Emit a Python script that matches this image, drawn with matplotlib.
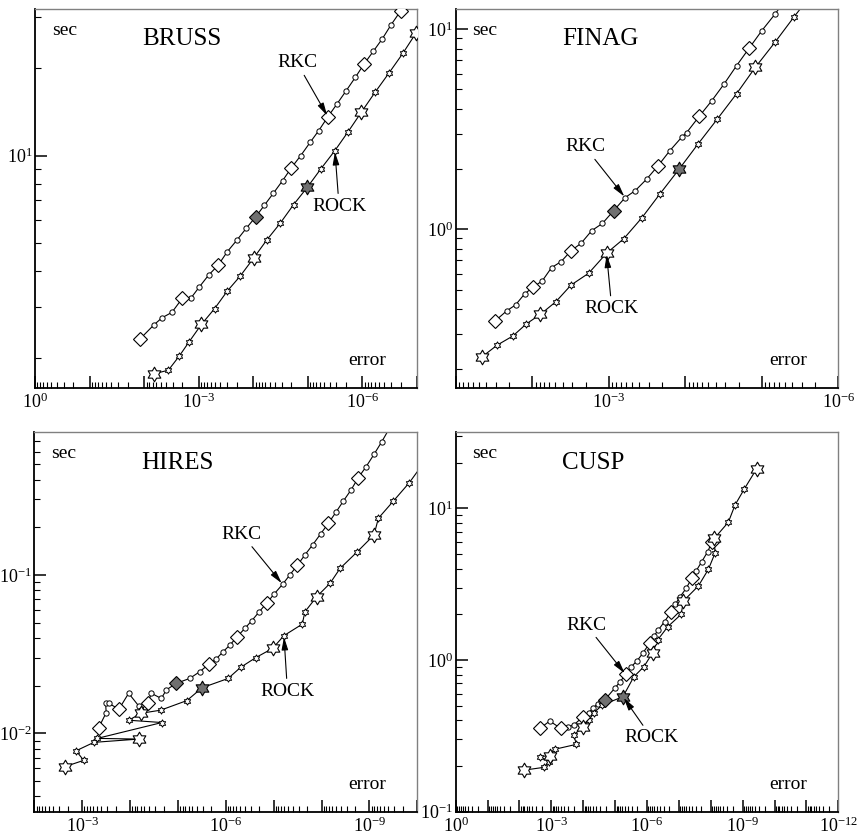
import matplotlib
matplotlib.use("Agg")
import matplotlib.pyplot as plt
from matplotlib.path import Path
from matplotlib.ticker import LogLocator, FuncFormatter, NullFormatter
import numpy as np

plt.rcParams["font.family"] = ["Liberation Serif", "DejaVu Serif"]
plt.rcParams["mathtext.fontset"] = "custom"
plt.rcParams["mathtext.rm"] = "Liberation Serif"
plt.rcParams["mathtext.it"] = "Liberation Serif:italic"
plt.rcParams["mathtext.bf"] = "Liberation Serif:bold"

# ---- data: error vs cpu seconds, RKC and ROCK on four test problems ----
bruss_rkc_err = [1.17e-2, 6.6e-3, 4.7e-3, 3.1e-3, 2.0e-3, 1.4e-3, 9.8e-4, 6.6e-4, 4.4e-4, 3.0e-4,
                 2.0e-4, 1.35e-4, 9.1e-5, 6.3e-5, 4.3e-5, 2.9e-5, 2.0e-5, 1.35e-5, 9.1e-6, 6.3e-6,
                 4.3e-6, 2.9e-6, 2.0e-6, 1.35e-6, 9.3e-7, 6.3e-7, 4.3e-7, 3.0e-7, 2.0e-7]
bruss_rkc_sec = [2.34, 2.61, 2.76, 2.88, 3.22, 3.22, 3.52, 3.87, 4.19, 4.66,
                 5.11, 5.61, 6.14, 6.73, 7.41, 8.20, 9.08, 10.0, 11.1, 12.2,
                 13.6, 15.1, 16.7, 18.6, 20.7, 22.9, 25.3, 28.2, 31.5]
bruss_rock_err = [6.5e-3, 3.6e-3, 2.3e-3, 1.5e-3, 8.9e-4, 5.1e-4, 3.0e-4, 1.74e-4, 9.8e-5, 5.6e-5,
                  3.2e-5, 1.82e-5, 1.02e-5, 5.8e-6, 3.2e-6, 1.82e-6, 1.05e-6, 5.9e-7, 3.3e-7, 1.82e-7,
                  1.05e-7]
bruss_rock_sec = [1.77, 1.82, 2.03, 2.28, 2.62, 2.97, 3.41, 3.84, 4.44, 5.13,
                  5.85, 6.78, 7.78, 8.99, 10.4, 12.1, 14.1, 16.5, 19.2, 22.5,
                  26.4]

finag_rkc_err = [3.04e-2, 2.14e-2, 1.65e-2, 1.26e-2, 9.8e-3, 7.4e-3, 5.6e-3, 4.2e-3, 3.1e-3, 2.3e-3,
                 1.67e-3, 1.21e-3, 8.6e-4, 6.1e-4, 4.5e-4, 3.2e-4, 2.26e-4, 1.59e-4, 1.10e-4, 9.6e-5,
                 6.6e-5, 4.5e-5, 3.1e-5, 2.14e-5, 1.46e-5, 1.0e-5, 6.7e-6, 4.6e-6]
finag_rkc_sec = [0.349, 0.392, 0.419, 0.475, 0.513, 0.552, 0.643, 0.689, 0.782, 0.851,
                 0.984, 1.07, 1.24, 1.44, 1.56, 1.78, 2.08, 2.47, 2.90, 3.04,
                 3.66, 4.39, 5.33, 6.56, 8.04, 9.82, 11.9, 14.5]
finag_rock_err = [4.5e-2, 2.86e-2, 1.79e-2, 1.19e-2, 7.8e-3, 4.9e-3, 3.1e-3, 1.83e-3, 1.07e-3, 6.4e-4,
                  3.7e-4, 2.15e-4, 1.20e-4, 6.8e-5, 3.8e-5, 2.14e-5, 1.22e-5, 6.7e-6, 3.8e-6, 2.12e-6]
finag_rock_sec = [0.231, 0.264, 0.293, 0.337, 0.376, 0.435, 0.527, 0.603, 0.759, 0.895,
                  1.14, 1.50, 2.00, 2.67, 3.56, 4.75, 6.43, 8.61, 11.5, 15.3]

hires_rkc_err = [4.56e-4, 3.15e-4, 3.25e-4, 2.81e-4, 1.71e-4, 1.07e-4, 6.6e-5, 6.0e-5, 4.2e-5, 3.6e-5,
                 2.22e-5, 1.75e-5, 1.08e-5, 5.7e-6, 3.5e-6, 2.27e-6, 1.62e-6, 1.17e-6, 8.2e-7, 5.8e-7,
                 4.0e-7, 2.9e-7, 2.0e-7, 1.41e-7, 9.9e-8, 6.5e-8, 4.6e-8, 3.2e-8, 2.22e-8, 1.53e-8,
                 1.04e-8, 7.2e-9, 5.0e-9, 3.5e-9, 2.42e-9, 1.70e-9, 1.17e-9, 8.0e-10, 5.5e-10, 3.8e-10]
hires_rkc_sec = [1.08e-2, 1.35e-2, 1.56e-2, 1.55e-2, 1.42e-2, 1.79e-2, 1.49e-2, 1.40e-2, 1.56e-2, 1.79e-2,
                 1.66e-2, 1.88e-2, 2.07e-2, 2.22e-2, 2.45e-2, 2.73e-2, 2.93e-2, 3.25e-2, 3.61e-2, 4.07e-2,
                 4.60e-2, 5.12e-2, 5.86e-2, 6.62e-2, 7.55e-2, 8.73e-2, 0.100, 0.115, 0.134, 0.155,
                 0.182, 0.212, 0.249, 0.293, 0.344, 0.412, 0.483, 0.578, 0.695, 0.845]
hires_rock_err = [2.34e-3, 9.3e-4, 1.34e-3, 5.7e-4, 6.6e-5, 4.85e-4, 2.16e-5, 1.07e-4, 5.8e-5, 2.30e-5,
                  6.5e-6, 3.13e-6, 8.95e-7, 4.9e-7, 2.35e-7, 1.05e-7, 6.1e-8, 2.53e-8, 2.22e-8, 1.26e-8,
                  6.65e-9, 4.1e-9, 1.84e-9, 8.0e-10, 6.5e-10, 3.15e-10, 1.46e-10, 7.9e-11]
hires_rock_sec = [6.15e-3, 6.75e-3, 7.76e-3, 8.77e-3, 9.2e-3, 9.29e-3, 1.17e-2, 1.21e-2, 1.34e-2, 1.40e-2,
                  1.61e-2, 1.94e-2, 2.22e-2, 2.61e-2, 3.01e-2, 3.44e-2, 4.14e-2, 4.89e-2, 5.86e-2, 7.29e-2,
                  8.85e-2, 0.110, 0.139, 0.179, 0.228, 0.293, 0.383, 0.495]

cusp_rkc_err = [2.30e-3, 1.12e-3, 5.1e-4, 2.99e-4, 1.99e-4, 1.01e-4, 6.6e-5, 4.9e-5, 3.44e-5, 2.84e-5,
                2.13e-5, 1.04e-5, 6.9e-6, 4.7e-6, 3.12e-6, 2.07e-6, 1.35e-6, 8.3e-7, 6.2e-7, 4.4e-7,
                2.83e-7, 1.75e-7, 1.28e-7, 9.1e-8, 5.9e-8, 3.94e-8, 2.89e-8, 1.92e-8, 1.25e-8, 9.1e-9]
cusp_rkc_sec = [0.354, 0.396, 0.354, 0.363, 0.373, 0.423, 0.450, 0.485, 0.515, 0.537,
                0.545, 0.650, 0.720, 0.804, 0.904, 0.985, 1.11, 1.29, 1.43, 1.58,
                1.79, 2.08, 2.34, 2.62, 2.97, 3.46, 3.86, 4.45, 5.18, 6.03]
cusp_rock_err = [7.1e-3, 1.73e-3, 1.17e-3, 2.30e-3, 1.12e-3, 7.8e-4, 1.64e-4, 1.99e-4, 1.01e-4, 6.6e-5,
                 4.6e-5, 2.52e-5, 5.7e-6, 2.58e-6, 1.25e-6, 6.6e-7, 4.6e-7, 2.22e-7, 8.5e-8, 7.2e-8,
                 2.44e-8, 1.19e-8, 7.4e-9, 7.7e-9, 2.82e-9, 1.74e-9, 8.9e-10, 3.66e-10]
cusp_rock_sec = [0.188, 0.196, 0.214, 0.231, 0.234, 0.258, 0.278, 0.320, 0.363, 0.402,
                 0.450, 0.505, 0.573, 0.776, 0.904, 1.12, 1.36, 1.66, 2.00, 2.45,
                 3.08, 3.96, 5.05, 6.34, 8.09, 10.5, 13.4, 18.2]

# which runs carry the large marker, and the highlighted (grey) run
bruss_rkc_big, bruss_rkc_grey = [0, 4, 8, 16, 20, 24, 28], 12
bruss_rock_big, bruss_rock_grey = [0, 4, 8, 16, 20], 12
finag_rkc_big, finag_rkc_grey = [0, 4, 8, 16, 20, 24], 12
finag_rock_big, finag_rock_grey = [0, 4, 8, 16], 12
hires_rkc_big, hires_rkc_grey = [0, 4, 8, 15, 19, 23, 27, 31, 35], 12
hires_rock_big, hires_rock_grey = [0, 4, 8, 15, 19, 23], 11
cusp_rkc_big, cusp_rkc_grey = [0, 2, 5, 13, 17, 21, 25, 29], 10
cusp_rock_big, cusp_rock_grey = [0, 4, 8, 15, 19, 23, 27], 12

GREY = "#707070"
STAR = Path.unit_regular_star(6, 0.58)


def draw_series(ax, err, sec, big, grey, small_marker, small_ms, big_marker, big_ms):
    err = np.asarray(err)
    sec = np.asarray(sec)
    ax.plot(err, sec, color="black", lw=0.8, marker=small_marker, ms=small_ms,
            mfc="white", mec="black", mew=0.7, zorder=2)
    ax.plot(err[big], sec[big], ls="none", marker=big_marker, ms=big_ms,
            mfc="white", mec="black", mew=0.8, zorder=3)
    ax.plot(err[grey], sec[grey], ls="none", marker=big_marker, ms=big_ms,
            mfc=GREY, mec="black", mew=0.8, zorder=3)


def x_fmt(v, pos):
    e = int(round(np.log10(v)))
    return f"$10^{{{e}}}$" if e % 3 == 0 else ""


def y_fmt(v, pos):
    e = int(round(np.log10(v)))
    return f"$10^{{{e}}}$"


def setup_axes(ax, xlim, ylim):
    ax.set_xscale("log")
    ax.set_yscale("log")
    ax.set_xlim(xlim)
    ax.set_ylim(ylim)
    for axis, fmt in ((ax.xaxis, x_fmt), (ax.yaxis, y_fmt)):
        axis.set_major_locator(LogLocator(base=10, numticks=40))
        axis.set_minor_locator(LogLocator(base=10, subs=np.arange(2, 10), numticks=40))
        axis.set_major_formatter(FuncFormatter(fmt))
        axis.set_minor_formatter(NullFormatter())
    ax.tick_params(which="both", direction="in", top=False, right=False, labelsize=13)
    ax.tick_params(axis="x", pad=3.5)
    ax.tick_params(axis="y", pad=2.0)
    ax.tick_params(which="major", length=8.5, width=1.1)
    ax.tick_params(which="minor", length=4, width=0.8)
    for s in ("left", "bottom"):
        ax.spines[s].set_linewidth(1.3)
        ax.spines[s].set_color("black")
    for s in ("top", "right"):
        ax.spines[s].set_linewidth(1.0)
        ax.spines[s].set_color("#808080")


ARROW = dict(arrowstyle="-|>,head_length=0.55,head_width=0.14", color="black",
             lw=0.8, shrinkA=1, shrinkB=1)

fig = plt.figure(figsize=(8.6, 8.35), dpi=100)

panels = [
    # name, rect, xlim, ylim, rkc, rock, title pos, rkc label, rock label, arrow targets
    ("BRUSS", [0.0407, 0.5353, 0.4442, 0.4539], (1, 1e-7), (1.58, 32),
     (bruss_rkc_err, bruss_rkc_sec, bruss_rkc_big, bruss_rkc_grey),
     (bruss_rock_err, bruss_rock_sec, bruss_rock_big, bruss_rock_grey),
     (0.385, 0.921), (0.686, 0.858), (0.796, 0.480), 20, 14),
    ("FINAG", [0.5299, 0.5353, 0.4449, 0.4539], (1e-1, 1e-6), (0.161, 12.6),
     (finag_rkc_err, finag_rkc_sec, finag_rkc_big, finag_rkc_grey),
     (finag_rock_err, finag_rock_sec, finag_rock_big, finag_rock_grey),
     (0.379, 0.920), (0.338, 0.636), (0.408, 0.210), 13, 8),
    ("HIRES", [0.0399, 0.0279, 0.4453, 0.4544], (1e-2, 1e-10), (0.0032, 0.796),
     (hires_rkc_err, hires_rkc_sec, hires_rkc_big, hires_rkc_grey),
     (hires_rock_err, hires_rock_sec, hires_rock_big, hires_rock_grey),
     (0.374, 0.918), (0.542, 0.731), (0.661, 0.318), 25, 16),
    ("CUSP", [0.5299, 0.0279, 0.4449, 0.4544], (1, 1e-12), (0.1, 31.7),
     (cusp_rkc_err, cusp_rkc_sec, cusp_rkc_big, cusp_rkc_grey),
     (cusp_rock_err, cusp_rock_sec, cusp_rock_big, cusp_rock_grey),
     (0.360, 0.918), (0.341, 0.492), (0.512, 0.195), 13, 12),
]

for name, rect, xlim, ylim, rkc, rock, tpos, rkc_pos, rock_pos, rkc_i, rock_i in panels:
    ax = fig.add_axes(rect)
    setup_axes(ax, xlim, ylim)
    draw_series(ax, rkc[0], rkc[1], rkc[2], rkc[3], "o", 3.8, "D", 7.6)
    draw_series(ax, rock[0], rock[1], rock[2], rock[3], STAR, 5.2, STAR, 10.5)

    ax.text(*tpos, name, transform=ax.transAxes, ha="center", va="center", fontsize=18)
    ax.text(0.077, 0.943, "sec", transform=ax.transAxes, ha="center", va="center", fontsize=14)
    ax.text(0.870, 0.073, "error", transform=ax.transAxes, ha="center", va="center", fontsize=14)
    ax.annotate("RKC", xy=(rkc[0][rkc_i], rkc[1][rkc_i]), xytext=rkc_pos,
                textcoords="axes fraction", ha="center", va="center", fontsize=14,
                arrowprops=ARROW)
    ax.annotate("ROCK", xy=(rock[0][rock_i], rock[1][rock_i]), xytext=rock_pos,
                textcoords="axes fraction", ha="center", va="center", fontsize=14,
                arrowprops=ARROW)

fig.savefig("out.png", dpi=100)
